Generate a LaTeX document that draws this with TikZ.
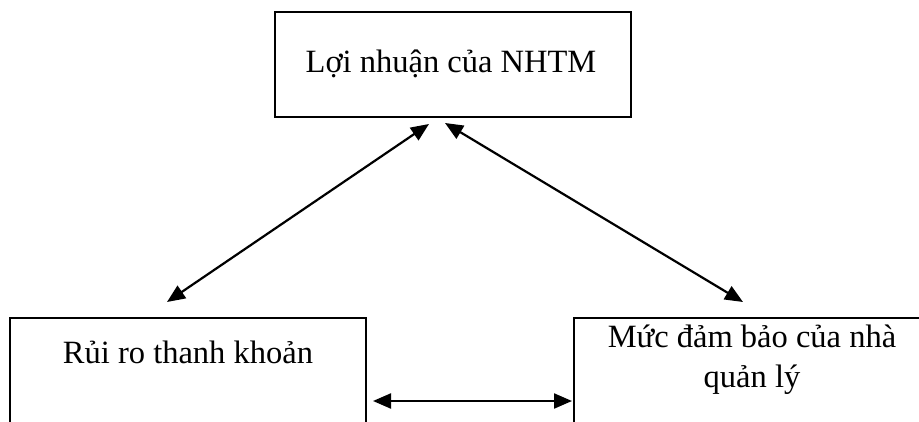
\documentclass[tikz,border=0pt]{standalone}
\usepackage{fontspec}
\setmainfont{Liberation Serif}
\usetikzlibrary{arrows.meta}
\begin{document}
\begin{tikzpicture}[x=1pt,y=-1pt,
  boxst/.style={draw,line width=2pt,inner sep=0pt,outer sep=0pt,anchor=north west},
  txt/.style={anchor=base,inner sep=0pt,font=\fontsize{32.5}{38}\selectfont},
  dbl/.style={line width=2.2pt,{Triangle[length=18pt,width=15pt]}-{Triangle[length=18pt,width=15pt]}}]
\useasboundingbox (0,0) rectangle (919,422);
\node[boxst,minimum width=356pt,minimum height=105pt] (top) at (275,12) {};
\node[boxst,minimum width=356pt,minimum height=115pt] (left) at (10,318) {};
\node[boxst,minimum width=365pt,minimum height=115pt] (right) at (574,318) {};
\node[txt] (ttop) at (451,73) {Lợi nhuận của NHTM};
\node[txt] (tleft) at (188,363) {Rủi ro thanh khoản};
\node[txt] (tr1) at (752,348) {Mức đảm bảo của nhà};
\node[txt] (tr2) at (752,387) {quản lý};
\coordinate (a1t) at (429,124);
\coordinate (a1b) at (167,302);
\coordinate (a2t) at (445,123);
\coordinate (a2b) at (743,302);
\coordinate (a3l) at (373,401);
\coordinate (a3r) at (572,401);
\draw[dbl] (a1b) -- (a1t);
\draw[dbl] (a2t) -- (a2b);
\draw[dbl] (a3l) -- (a3r);
\end{tikzpicture}
\end{document}
